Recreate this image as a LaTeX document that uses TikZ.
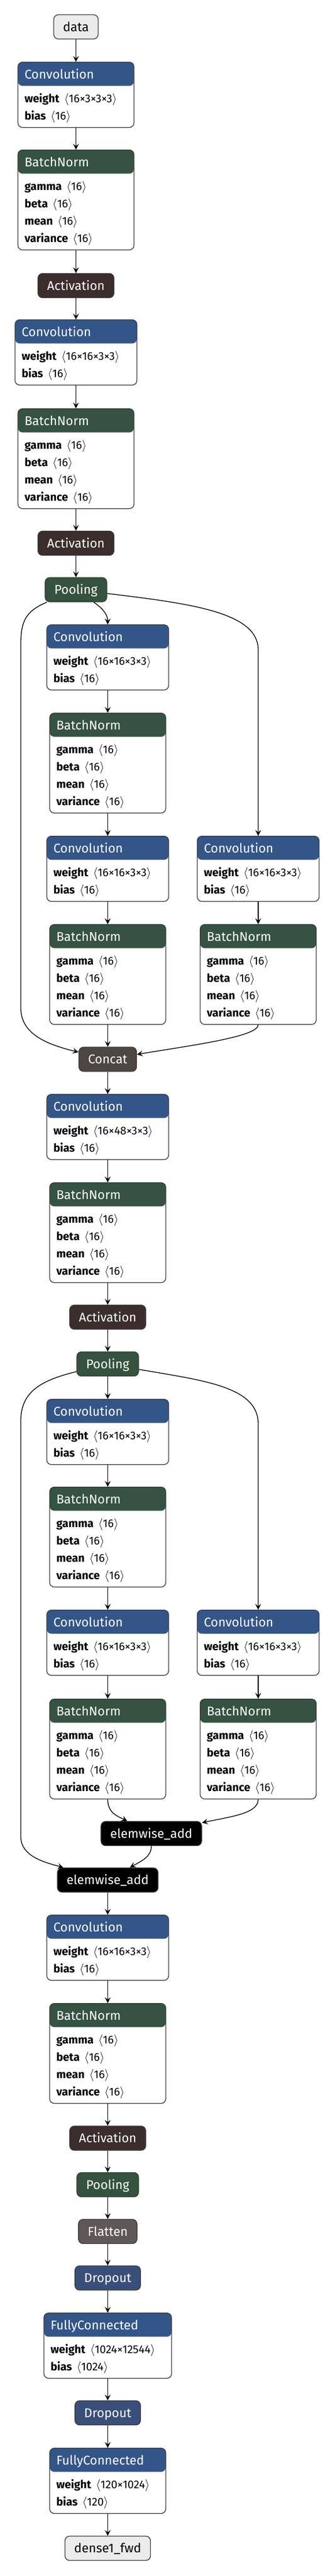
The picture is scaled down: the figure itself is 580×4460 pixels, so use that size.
\documentclass[tikz,border=0pt]{standalone}
\usepackage{fontspec}
\setmainfont{Fira Sans}
\usetikzlibrary{positioning}
\usetikzlibrary{arrows.meta}
\definecolor{convcol}{RGB}{51,85,136}
\definecolor{normcol}{RGB}{53,82,66}
\definecolor{poolcol}{RGB}{52,82,62}
\definecolor{actcol}{RGB}{60,45,45}
\definecolor{catcol}{RGB}{78,70,67}
\definecolor{flatcol}{RGB}{95,88,86}
\definecolor{dropcol}{RGB}{58,78,122}
\definecolor{iocol}{RGB}{236,236,236}
\definecolor{linecol}{RGB}{58,58,58}
\tikzset{
    mynode/.style = {rectangle, rounded corners=8pt, draw=linecol, line width=1.3pt, inner xsep=16pt, minimum height=42pt, text height=20pt, text depth=5pt, text=white, font=\fontsize{22}{26}\selectfont},
    mynodei/.style = {mynode, fill=iocol, text=black}, % input / output
    mynodea/.style = {mynode, fill=actcol},
    mynodep/.style = {mynode, fill=poolcol},
    mynodec/.style = {mynode, fill=catcol},
    mynodee/.style = {mynode, fill=black},
    mynodef/.style = {mynode, fill=flatcol},
    mynoded/.style = {mynode, fill=dropcol},
    layer/.style = {rectangle, rounded corners=8pt, draw=linecol, line width=1.3pt, fill=white, anchor=north, inner sep=0pt},
    head/.style = {anchor=base west, inner sep=0pt, text=white, font=\fontsize{22}{26}\selectfont},
    attr/.style = {anchor=base west, inner sep=0pt, font=\fontsize{19.5}{23}\selectfont},
    edgen/.style = {-{Stealth[length=10pt,width=10pt,inset=4pt]}, line width=1.3pt},
}
% layer box: name, x, top, width, bar colour, title, attribute list
\newcommand{\layernode}[7]{%
  \gdef\nattr{0}%
  \foreach \k/\v in {#7} {\xdef\nattr{\the\numexpr\nattr+1\relax}}%
  \node[layer, minimum width=#4pt, minimum height=53pt+30pt*\nattr,
        path picture={\fill[#5] (path picture bounding box.north west) rectangle
                      ([yshift=-41pt]path picture bounding box.north east);}]
        at (#2,#3) (#1) {};
  \node[head] at ([xshift=12pt,yshift=-29.5pt]#1.north west) (#1h) {#6};
  \foreach \k/\v [count=\i] in {#7} {
    \node[attr] at ([xshift=12pt,yshift=-40.5pt-30pt*\i]#1.north west) (#1a\i)
        {\textbf{\k}\hspace{8pt}$\langle$\v$\rangle$};
  }%
}

\begin{document}
\begin{tikzpicture}[x=1pt,y=1pt]
\useasboundingbox (0,0) rectangle (580,-4460);
\node[mynodei] at (131.5, -46.5) (data) {data};
\layernode{conv1}{131.5}{-107}{201}{convcol}{Convolution}{weight/16×3×3×3, bias/16}
\layernode{bn1}{131.5}{-259}{201}{normcol}{BatchNorm}{gamma/16, beta/16, mean/16, variance/16}
\node[mynodea] at (131.5, -494.5) (act1) {Activation};
\layernode{conv2}{131.5}{-553}{211}{convcol}{Convolution}{weight/16×16×3×3, bias/16}
\layernode{bn2}{131.5}{-707}{201}{normcol}{BatchNorm}{gamma/16, beta/16, mean/16, variance/16}
\node[mynodea] at (131.5, -940.5) (act2) {Activation};
\node[mynodep] at (131.5, -1021) (pool1) {Pooling};
%
\layernode{convA1}{186.5}{-1081}{211}{convcol}{Convolution}{weight/16×16×3×3, bias/16}
\layernode{bnA1}{186.5}{-1234}{201}{normcol}{BatchNorm}{gamma/16, beta/16, mean/16, variance/16}
\layernode{convA2}{186.5}{-1447}{211}{convcol}{Convolution}{weight/16×16×3×3, bias/16}
\layernode{bnA2}{186.5}{-1600}{201}{normcol}{BatchNorm}{gamma/16, beta/16, mean/16, variance/16}
\layernode{convB}{447}{-1447}{211}{convcol}{Convolution}{weight/16×16×3×3, bias/16}
\layernode{bnB}{447}{-1600}{201}{normcol}{BatchNorm}{gamma/16, beta/16, mean/16, variance/16}
\node[mynodec] at (186.5, -1834) (concat) {Concat};
\layernode{conv3}{186.5}{-1894}{211}{convcol}{Convolution}{weight/16×48×3×3, bias/16}
\layernode{bn3}{186.5}{-2047}{201}{normcol}{BatchNorm}{gamma/16, beta/16, mean/16, variance/16}
\node[mynodea] at (186.5, -2280.5) (act3) {Activation};
\node[mynodep] at (186.5, -2361.5) (pool2) {Pooling};
%
\layernode{convC1}{186.5}{-2422}{211}{convcol}{Convolution}{weight/16×16×3×3, bias/16}
\layernode{bnC1}{186.5}{-2574}{201}{normcol}{BatchNorm}{gamma/16, beta/16, mean/16, variance/16}
\layernode{convC2}{186.5}{-2787}{211}{convcol}{Convolution}{weight/16×16×3×3, bias/16}
\layernode{bnC2}{186.5}{-2941}{201}{normcol}{BatchNorm}{gamma/16, beta/16, mean/16, variance/16}
\layernode{convD}{447}{-2787}{211}{convcol}{Convolution}{weight/16×16×3×3, bias/16}
\layernode{bnD}{447}{-2941}{201}{normcol}{BatchNorm}{gamma/16, beta/16, mean/16, variance/16}
\node[mynodee] at (262, -3174.5) (add1) {elemwise\_add};
\node[mynodee] at (186.5, -3255) (add2) {elemwise\_add};
\layernode{conv4}{186.5}{-3315}{211}{convcol}{Convolution}{weight/16×16×3×3, bias/16}
\layernode{bn4}{186.5}{-3468}{201}{normcol}{BatchNorm}{gamma/16, beta/16, mean/16, variance/16}
\node[mynodea] at (186.5, -3702) (act4) {Activation};
\node[mynodep] at (186.5, -3782.5) (pool3) {Pooling};
\node[mynodef] at (186.5, -3863.5) (flat) {Flatten};
\node[mynoded] at (186.5, -3944) (drop1) {Dropout};
\layernode{fc1}{186.5}{-4004}{221}{convcol}{FullyConnected}{weight/1024×12544, bias/1024}
\node[mynoded] at (186.5, -4177.5) (drop2) {Dropout};
\layernode{fc2}{186.5}{-4238}{201}{convcol}{FullyConnected}{weight/120×1024, bias/120}
\node[mynodei] at (186.5, -4412) (out) {dense1\_fwd};
%
\draw[edgen] (data) edge (conv1);
\draw[edgen] (conv1) edge (bn1);
\draw[edgen] (bn1) edge (act1);
\draw[edgen] (act1) edge (conv2);
\draw[edgen] (conv2) edge (bn2);
\draw[edgen] (bn2) edge (act2);
\draw[edgen] (act2) edge (pool1);
\draw[edgen] (pool1) .. controls (180,-1055) and (186.5,-1065) .. (convA1);
\draw[edgen] (pool1) .. controls (45,-1058) and (36,-1075) .. (36,-1115) -- (36,-1745)
             .. controls (36,-1790) and (80,-1808) .. (concat);
\draw[edgen] (pool1) .. controls (330,-1045) and (447,-1060) .. (447,-1125) -- (convB);
\draw[edgen] (convA1) edge (bnA1);
\draw[edgen] (bnA1) edge (convA2);
\draw[edgen] (convA2) edge (bnA2);
\draw[edgen] (bnA2) edge (concat);
\draw[edgen] (convB) edge (bnB);
\draw[edgen] (bnB) .. controls (447,-1795) and (330,-1810) .. (concat);
\draw[edgen] (concat) edge (conv3);
\draw[edgen] (conv3) edge (bn3);
\draw[edgen] (bn3) edge (act3);
\draw[edgen] (act3) edge (pool2);
\draw[edgen] (pool2) edge (convC1);
\draw[edgen] (pool2) .. controls (70,-2390) and (36,-2410) .. (36,-2460) -- (36,-3180)
             .. controls (36,-3215) and (80,-3225) .. (add2);
\draw[edgen] (pool2) .. controls (350,-2390) and (447,-2400) .. (447,-2465) -- (convD);
\draw[edgen] (convC1) edge (bnC1);
\draw[edgen] (bnC1) edge (convC2);
\draw[edgen] (convC2) edge (bnC2);
\draw[edgen] (convD) edge (bnD);
\draw[edgen] (bnC2) .. controls (186.5,-3140) and (205,-3145) .. (add1);
\draw[edgen] (bnD) .. controls (447,-3140) and (400,-3145) .. (add1);
\draw[edgen] (add1) .. controls (262,-3215) and (245,-3222) .. (add2);
\draw[edgen] (add2) edge (conv4);
\draw[edgen] (conv4) edge (bn4);
\draw[edgen] (bn4) edge (act4);
\draw[edgen] (act4) edge (pool3);
\draw[edgen] (pool3) edge (flat);
\draw[edgen] (flat) edge (drop1);
\draw[edgen] (drop1) edge (fc1);
\draw[edgen] (fc1) edge (drop2);
\draw[edgen] (drop2) edge (fc2);
\draw[edgen] (fc2) edge (out);
\end{tikzpicture}
\end{document}
